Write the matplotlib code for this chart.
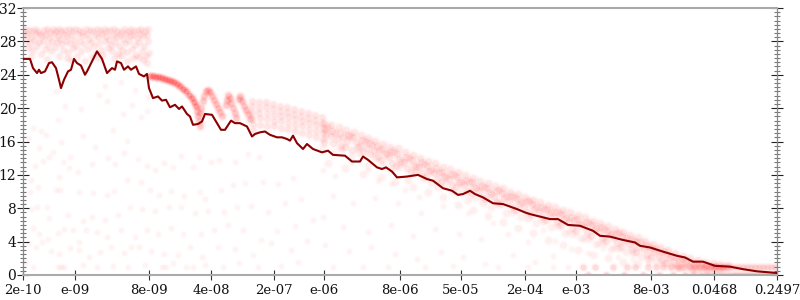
import numpy as np
import matplotlib
matplotlib.use('Agg')
import matplotlib.pyplot as plt

# x is position along the (log spaced) step axis, y is the plotted value
tick_pos = [0, 52, 126, 188, 251, 301, 377, 438, 502, 553, 628, 691, 754]
tick_labels = ['2e-10', 'e-09', '8e-09', '4e-08', '2e-07', 'e-06', '8e-06', '5e-05', '2e-04', 'e-03', '8e-03', '0.0468', '0.2497']

line_pts = [(0, 25.9), (7, 25.9), (10, 24.8), (14, 24.2), (16, 24.6), (18, 24.2), (22, 24.4), (26, 25.4), (29, 25.5), (33, 24.8), (36, 23.4), (38, 22.4), (41, 23.4), (45, 24.4), (48, 24.6), (51, 25.9), (54, 25.4), (58, 25.1), (62, 24.0), (64, 24.4), (69, 25.6), (74, 26.8), (79, 25.9), (84, 24.2), (89, 24.8), (92, 24.6), (94, 25.6), (98, 25.4), (101, 24.6), (105, 25.0), (108, 24.6), (113, 25.0), (116, 24.1), (121, 23.8), (124, 24.1), (126, 22.4), (130, 21.2), (135, 21.4), (139, 20.9), (143, 21.0), (147, 20.1), (152, 20.4), (156, 19.9), (159, 20.2), (164, 19.3), (167, 19.0), (170, 18.0), (175, 18.1), (179, 18.4), (182, 19.3), (189, 19.2), (194, 18.2), (198, 17.4), (202, 17.4), (208, 18.5), (212, 18.2), (217, 18.2), (224, 17.8), (229, 16.6), (232, 16.9), (237, 17.1), (242, 17.2), (247, 16.8), (254, 16.5), (259, 16.5), (264, 16.3), (267, 16.1), (270, 16.7), (274, 15.8), (280, 15.1), (284, 15.7), (290, 15.1), (299, 14.7), (305, 14.9), (310, 14.4), (322, 14.3), (329, 13.6), (337, 13.6), (340, 14.2), (345, 13.8), (354, 12.9), (359, 12.7), (363, 12.9), (369, 12.4), (374, 11.7), (384, 11.8), (395, 12.0), (404, 11.5), (410, 11.3), (420, 10.4), (429, 10.1), (435, 9.6), (440, 9.7), (447, 10.1), (452, 9.7), (460, 9.3), (470, 8.6), (480, 8.5), (494, 7.9), (502, 7.5), (507, 7.3), (517, 7.0), (527, 6.7), (535, 6.7), (545, 6.0), (557, 5.9), (570, 5.3), (577, 4.7), (587, 4.6), (600, 4.2), (612, 3.9), (617, 3.5), (627, 3.3), (640, 2.8), (654, 2.3), (662, 2.1), (670, 1.6), (680, 1.6), (692, 1.1), (707, 1.0), (720, 0.7), (734, 0.44), (754, 0.24)]

arc_pts = [(127, 23.9), (130, 23.85), (133, 23.75), (136, 23.7), (139, 23.6), (142, 23.5), (145, 23.4), (148, 23.3), (151, 23.1), (154, 22.9), (157, 22.6), (160, 22.3), (163, 22), (166, 21.6), (169, 21.2), (171, 20.7), (173, 20.2)]

lobe_pts = [(174, 19.6), (175, 19), (176, 18.4), (177, 17.8),
            (177, 19.4), (178, 20), (180, 20.8), (181, 21.4), (183, 22.1), (185, 22.2), (187, 21.9), (189, 21.5), (191, 21), (193, 20.5), (195, 20), (197, 19.5), (199, 19.1),
            (203, 20.4), (204, 21), (205, 21.6), (207, 21.2), (208, 20.6), (210, 20), (212, 19.4), (213, 18.8),
            (216, 21.1), (217, 21.4), (219, 20.9), (221, 20.3), (223, 19.8), (225, 19.3), (227, 18.7)]

streak_pts = [(229, 20.9), (229, 20.2), (229, 19.5), (229, 18.8), (230, 18.1), (230, 17.4), (236, 20.7), (236, 20), (236, 19.4), (237, 18.8), (237, 18),
              (243, 20.7), (243, 20.1), (244, 19.4), (244, 18.7), (244, 17.9), (250, 20.5), (250, 19.9), (251, 19.2), (251, 18.5), (251, 17.8),
              (257, 20.3), (257, 19.7), (258, 19.1), (258, 18.4), (258, 17.6), (264, 20.1), (264, 19.5), (265, 18.9), (265, 18.2), (265, 17.5),
              (271, 19.9), (271, 19.3), (272, 18.7), (272, 18), (272, 17.2), (278, 19.7), (278, 19.1), (279, 18.5), (279, 17.8), (279, 17),
              (285, 19.4), (285, 18.8), (286, 18.2), (286, 17.5), (286, 16.8), (292, 19.2), (292, 18.6), (293, 18), (293, 17.3), (293, 16.5),
              (299, 18.9), (299, 18.2), (300, 17.6), (300, 17), (300, 16.3)]

band_pts = [(2, 29.5), (6, 29.4), (9, 29.2), (12, 29.5), (15, 29.3), (17, 28.9), (21, 29.4), (24, 29.5), (27, 29.1), (30, 29.5), (33, 29.3), (36, 29.5), (38, 29.2), (42, 29.4), (46, 29.5), (49, 29.3), (52, 29.5), (56, 29.4), (59, 29.1), (63, 29.5), (67, 29.4), (70, 29.2), (74, 29.5), (77, 29.3), (81, 29.5), (84, 29.2), (87, 29.4), (91, 29.5), (94, 29.3), (98, 29.1), (101, 29.5), (105, 29.3), (108, 29.5), (111, 29.2), (115, 29.4), (118, 29.5), (122, 29.3), (125, 29.5),
            (1, 29.0), (4, 28.8), (8, 28.5), (13, 28.9), (19, 28.6), (23, 28.8), (26, 28.4), (31, 28.9), (35, 28.7), (37, 28.3), (41, 28.9), (44, 28.6), (48, 28.8), (51, 28.2), (55, 28.9), (60, 28.6), (64, 28.9), (66, 28.3), (72, 28.8), (75, 28.5), (79, 28.9), (83, 28.6), (86, 28.2), (90, 28.8), (93, 28.5), (97, 28.8), (100, 28.3), (103, 28.9), (107, 28.6), (110, 28.8), (114, 28.4), (117, 28.9), (120, 28.6), (124, 28.8),
            (3, 28.1), (7, 27.8), (11, 28.2), (16, 27.9), (20, 28.0), (25, 27.6), (29, 28.1), (34, 27.9), (39, 27.7), (43, 28.1), (47, 27.8), (53, 27.5), (57, 28.0), (61, 27.7), (68, 27.9), (71, 27.4), (76, 27.8), (82, 28.0), (88, 27.6), (92, 27.9), (96, 27.4), (102, 27.8), (106, 28.0), (112, 27.6), (116, 27.9), (121, 27.5), (125, 28.0),
            (5, 27.2), (10, 27.0), (14, 27.4), (22, 27.1), (28, 26.9), (32, 27.3), (40, 27.0), (45, 26.7), (50, 27.2), (58, 26.9), (65, 27.1), (73, 26.6), (78, 27.0), (85, 27.2), (89, 26.8), (95, 26.5), (99, 27.0), (104, 26.7), (109, 27.1), (113, 26.4), (119, 26.8), (123, 26.3), (126, 26.6), (18, 26.5), (36, 26.3), (54, 26.2), (69, 26.1), (80, 26.4), (116, 26.1),
            (8, 26.2), (24, 25.9), (44, 26), (62, 25.6), (76, 26), (91, 26), (104, 25.7), (120, 25.8), (124, 25.4), (48, 25.8), (98, 26.3), (110, 26)]

diag_pts = [(301, 18.2), (302, 17.5), (303, 16.9), (301, 16), (308, 18), (309, 17.3), (308, 16.6), (310, 15.8),
            (316, 17.7), (317, 17), (315, 16.3), (318, 15.5), (323, 17.4), (325, 16.8), (324, 16.1), (322, 15.3), (331, 17.1), (330, 16.5), (333, 15.9), (329, 15), (338, 16.8), (339, 16.2), (337, 15.5), (340, 14.7),
            (345, 16.4), (346, 15.8), (344, 15.2), (347, 14.5), (352, 16.1), (354, 15.5), (351, 14.9), (355, 14.2), (360, 15.7), (359, 15.1), (362, 14.6), (358, 13.8), (367, 15.4), (368, 14.9), (366, 14.2), (369, 13.4),
            (375, 15.2), (374, 14.5), (376, 13.9), (373, 13.1), (382, 14.8), (383, 14.2), (381, 13.6), (384, 12.8), (390, 14.4), (389, 13.8), (391, 13.2), (388, 12.4), (397, 14), (398, 13.5), (396, 12.9), (399, 12.2),
            (405, 13.7), (404, 13.1), (406, 12.5), (403, 11.8), (412, 13.4), (413, 12.8), (411, 12.2), (414, 11.5), (420, 13), (419, 12.4), (421, 11.9), (418, 11.1), (427, 12.7), (428, 12.1), (426, 11.5), (429, 10.8),
            (435, 12.3), (434, 11.8), (436, 11.1), (433, 10.5), (442, 12), (443, 11.4), (441, 10.8), (444, 10.1), (450, 11.6), (449, 11.1), (451, 10.5), (448, 9.8), (457, 11.3), (458, 10.7), (456, 10.1), (459, 9.4),
            (465, 11), (464, 10.4), (466, 9.9), (463, 9.1), (472, 10.7), (473, 10.1), (471, 9.4), (474, 8.8), (480, 10.4), (479, 9.8), (481, 9.2), (478, 8.5), (487, 10), (488, 9.5), (486, 8.9), (489, 8.1),
            (495, 9.7), (494, 9.1), (496, 8.5), (493, 7.8), (502, 9.4), (503, 8.9), (501, 8.2), (504, 7.6), (510, 9), (509, 8.5), (511, 7.9), (508, 7.2), (517, 8.8), (518, 8.2), (516, 7.6), (519, 6.9),
            (525, 8.4), (524, 7.9), (526, 7.3), (523, 6.6), (532, 8.2), (533, 7.6), (531, 7), (534, 6.4), (540, 7.8), (539, 7.3), (541, 6.7), (538, 6), (547, 7.5), (548, 7), (546, 6.4), (549, 5.6),
            (555, 7.2), (554, 6.7), (556, 6.1), (553, 5.3), (562, 6.9), (563, 6.3), (561, 5.7), (564, 5), (570, 6.5), (569, 6), (571, 5.4), (568, 4.7), (577, 6.2), (578, 5.7), (576, 5.1), (579, 4.4),
            (585, 5.9), (584, 5.3), (586, 4.8), (583, 4.1), (592, 5.5), (593, 5), (591, 4.4), (594, 3.8), (600, 5.2), (599, 4.7), (601, 4.1), (598, 3.4), (607, 4.8), (608, 4.3), (606, 3.7), (609, 3.1),
            (615, 4.5), (614, 3.9), (616, 3.4), (613, 2.8), (622, 4.1), (623, 3.6), (621, 3.1), (624, 2.4), (630, 3.7), (629, 3.2), (631, 2.7), (628, 2.1), (637, 3.3), (638, 2.8), (636, 2.3), (639, 1.8),
            (645, 3), (644, 2.5), (646, 2), (643, 1.4), (652, 2.6), (653, 2.1), (651, 1.6), (654, 1.2), (660, 2.3), (659, 1.9), (661, 1.4), (658, 1), (667, 2), (668, 1.6), (666, 1.1), (669, 0.7),
            (675, 1.8), (674, 1.4), (676, 1), (673, 0.6), (682, 1.5), (683, 1.2), (681, 0.9), (684, 0.5), (690, 1.4), (689, 1.1), (691, 0.8), (697, 1.3), (698, 1), (696, 0.7), (705, 1.2), (704, 0.9),
            (305, 17.7), (312, 17), (320, 16.5), (327, 16.7), (335, 15.4), (342, 16.1), (349, 15.6), (356, 15), (364, 14.5), (371, 14.7), (378, 13.5), (386, 14), (393, 13), (401, 13.3), (408, 12.6), (416, 12.4), (423, 11.7), (431, 12), (438, 11.2), (446, 11.2), (453, 10.4), (461, 10.6), (468, 9.7), (476, 10.2), (483, 9.5), (491, 9.3), (498, 8.8), (506, 8.9), (513, 8.1), (521, 7.9), (528, 7.6), (536, 7.4), (543, 6.8), (551, 6.6), (558, 6.1), (566, 6.2), (573, 5.6), (581, 5.5), (588, 4.9), (596, 5), (603, 4.4), (611, 4.1), (618, 3.9), (626, 3.4), (633, 3.1), (641, 2.9), (648, 2.3), (656, 1.9), (663, 1.7), (671, 1.3), (678, 1.2), (686, 1), (693, 1.1), (700, 0.9)]

# fading part of the band, down to and past the dark line
diag_low = [(300, 15.2), (310, 14.6), (318, 15.1), (328, 14.2), (336, 14.6), (345, 13.2), (352, 14), (360, 13.2), (368, 12.6), (376, 13), (385, 11.4), (392, 12.3), (400, 11.6), (408, 11), (415, 10.6), (422, 10.9), (430, 9.9), (438, 9.8), (445, 9), (452, 9.3), (460, 8.6), (468, 8.2), (475, 8.6), (483, 7.4), (490, 7.6), (498, 7), (505, 6.8), (513, 6.2), (520, 6.5), (528, 5.7), (535, 5.9), (542, 5), (550, 4.9), (558, 4.4), (565, 4.3), (573, 3.7), (580, 3.9), (588, 3.1), (595, 3.2), (603, 2.7), (610, 2.6), (618, 2.2), (625, 1.9), (633, 1.6), (640, 1.4), (648, 1.1), (655, 0.8),
            (305, 13.4), (322, 12.8), (340, 12.1), (358, 11.8), (372, 11.2), (390, 10.6), (405, 9.9), (420, 9.3), (435, 8.4), (450, 7.8), (465, 7.1), (480, 6.4), (495, 5.6), (510, 5), (525, 4.2), (540, 3.6), (555, 3), (570, 2.4), (585, 2), (600, 1.5), (615, 1.3)]

row_x = [560, 572, 590, 604, 612, 625, 633, 640, 648, 655, 661, 667, 672, 678, 683, 688, 692, 696, 700, 704, 708, 712, 716, 720, 724, 728, 732, 736, 740, 744, 748, 752]
row_low = [565, 583, 601, 620, 636, 650, 662, 670, 678, 684, 690, 695, 700, 705, 710, 714, 718, 722, 726, 730, 734, 738, 742, 746, 750, 753]
row_one = [1.0] * len(row_x)
row_zero = [0.0] * len(row_low)

sparse_pts = [(10, 17.6), (18, 17.2), (5, 16.4), (23, 16.8), (35, 18.6), (38, 15.9), (16, 15.2), (30, 14.8), (47, 14.1), (60, 16.6), (72, 15.3), (90, 17.4), (104, 16.1), (118, 18.9), (100, 19.3), (84, 20.8), (76, 21.6), (58, 19.9), (42, 20.2), (33, 22.1), (82, 22.7), (98, 23.1), (109, 20.4), (124, 19.7), (125, 21.3), (112, 22.2),
              (12, 13.1), (20, 13.7), (26, 14.2), (40, 13.5), (46, 12.8), (8, 11.4), (36, 11.8), (55, 12.4), (69, 13.3), (85, 14), (92, 13.3), (101, 14.6), (115, 13.9), (124, 13.1), (132, 12.6), (141, 13.4), (150, 12.9), (158, 14.3), (170, 13), (176, 14.2), (188, 13.5), (196, 13.8), (212, 13.6), (225, 14.5), (236, 14.1),
              (7, 9.9), (15, 10.6), (33, 10.2), (37, 10.2), (56, 10), (70, 9.8), (84, 9.6), (91, 10.1), (104, 11.4), (118, 11.1), (127, 10.2), (136, 9.6), (148, 10.1), (161, 9.5), (177, 10), (182, 9.1), (198, 10.2), (210, 10.8), (222, 11), (240, 11.2), (255, 10.9), (270, 11.6),
              (8, 7.9), (14, 8.2), (24, 8.1), (26, 6.8), (45, 7.2), (60, 6.5), (69, 6.9), (82, 6.6), (95, 7.2), (107, 8.2), (119, 7.9), (132, 7.7), (146, 8.2), (158, 8.2), (172, 7.4), (185, 7.7), (201, 7.5), (214, 8.1), (228, 8.3), (245, 7.6), (262, 8.6), (278, 9.1),
              (10, 5.6), (16, 4.9), (25, 4.3), (35, 5), (41, 5.5), (50, 5.4), (56, 3.9), (63, 5.4), (74, 5.2), (84, 4.6), (98, 5.4), (112, 4.6), (124, 5.4), (135, 4.9), (148, 5.6), (160, 4.9), (178, 4.9), (191, 5.4), (205, 6), (220, 5.4), (238, 4.2), (254, 5.3), (272, 5.9), (290, 6.6),
              (6, 3.8), (13, 3.4), (19, 4.0), (28, 2.9), (36, 2.5), (47, 3.2), (56, 3), (66, 2.1), (77, 2.8), (88, 3.4), (101, 2.6), (108, 3.3), (116, 3.4), (128, 2.9), (141, 2.5), (155, 2.4), (167, 3.4), (179, 2.2), (195, 3.4), (212, 3.1), (230, 2.4), (248, 3.8), (268, 3), (284, 4.1),
              (3, 1.5), (10, 1), (35, 1), (38, 1), (41, 1), (60, 1.2), (74, 1), (90, 1.1), (105, 0.9), (122, 1.2), (139, 1), (143, 1), (150, 1.4), (163, 0.9), (170, 1), (182, 1.2), (200, 1), (216, 1.4), (235, 1), (258, 1.1), (275, 1.6),
              (300, 12.6), (312, 11.9), (328, 13.4), (345, 12.6), (355, 11.3), (368, 10.9), (382, 10.2), (396, 9.4), (310, 9.5), (330, 8.6), (352, 9.2), (375, 8.6), (398, 7.4), (420, 8.3), (445, 7.4), (470, 6.2), (300, 7), (320, 5.8), (345, 5.1), (368, 6), (390, 4.7), (412, 5.5), (436, 4.9), (458, 4.3), (485, 4.9), (505, 4), (302, 3.6), (326, 2.9), (348, 3.3), (372, 2.5), (394, 1.9), (418, 2.8), (440, 2.1), (462, 1.3), (490, 2.4), (512, 1.5), (530, 2.3), (310, 1), (340, 1), (365, 0.9), (402, 1), (430, 1.1), (475, 1), (505, 1), (530, 1), (545, 0.9),
              (520, 5.4), (532, 4.1), (548, 3.1), (565, 2.6), (580, 3.2), (595, 2.1), (610, 1.8), (625, 1.4), (545, 5.2), (560, 4.3), (575, 3.7), (590, 3.2)]


def split(pts):
    return [p[0] for p in pts], [p[1] for p in pts]


def soft(ax, pts, s, alpha):
    # a wider faint disc under the dot gives the blurred look of the original
    x, y = split(pts)
    ax.scatter(x, y, s=s * 2.4, c='#ff0000', alpha=alpha * 0.35, linewidths=0)
    ax.scatter(x, y, s=s, c='#ff0000', alpha=alpha, linewidths=0)


fig = plt.figure(figsize=(8, 3), dpi=100)
ax = fig.add_axes([23 / 800, 1 - 275 / 300, 754 / 800, 267 / 300])

soft(ax, sparse_pts, 15, 0.035)
soft(ax, band_pts, 20, 0.065)
soft(ax, diag_pts, 26, 0.065)
soft(ax, diag_low, 26, 0.045)
soft(ax, streak_pts, 20, 0.075)
soft(ax, arc_pts, 20, 0.26)
soft(ax, lobe_pts, 22, 0.15)
soft(ax, list(zip(row_x, row_one)), 20, 0.1)
soft(ax, list(zip(row_low, row_zero)), 20, 0.14)

lx, ly = split(line_pts)
ax.plot(lx, ly, color='#8b0000', lw=1.5, solid_joinstyle='round', zorder=5)

ax.set_xlim(0, 754)
ax.set_ylim(0, 32)
ax.set_xticks(tick_pos)
ax.set_xticklabels(tick_labels)
ax.set_yticks(np.arange(0, 33, 4))
ax.set_yticks(np.arange(0, 32.5, 0.5), minor=True)

for sp in ['top', 'bottom']:
    ax.spines[sp].set_color('#aaaaaa')
    ax.spines[sp].set_linewidth(1.5)
for sp in ['left', 'right']:
    ax.spines[sp].set_color('#888888')
    ax.spines[sp].set_linewidth(0.9)

ax.tick_params(axis='y', which='major', direction='inout', length=8.6, width=0.8, color='#222222',
               left=True, right=True, labelsize=10, pad=0.5)
ax.tick_params(axis='y', which='minor', direction='inout', length=4.6, width=0.8, color='#777777',
               left=True, right=True)
ax.tick_params(axis='x', which='major', direction='inout', length=7.5, width=0.8, color='#333333',
               labelsize=9.5, pad=2.5)
for t in ax.get_xticklabels() + ax.get_yticklabels():
    t.set_family('DejaVu Serif')
    t.set_color('#111111')

fig.savefig('out.png', dpi=100)
